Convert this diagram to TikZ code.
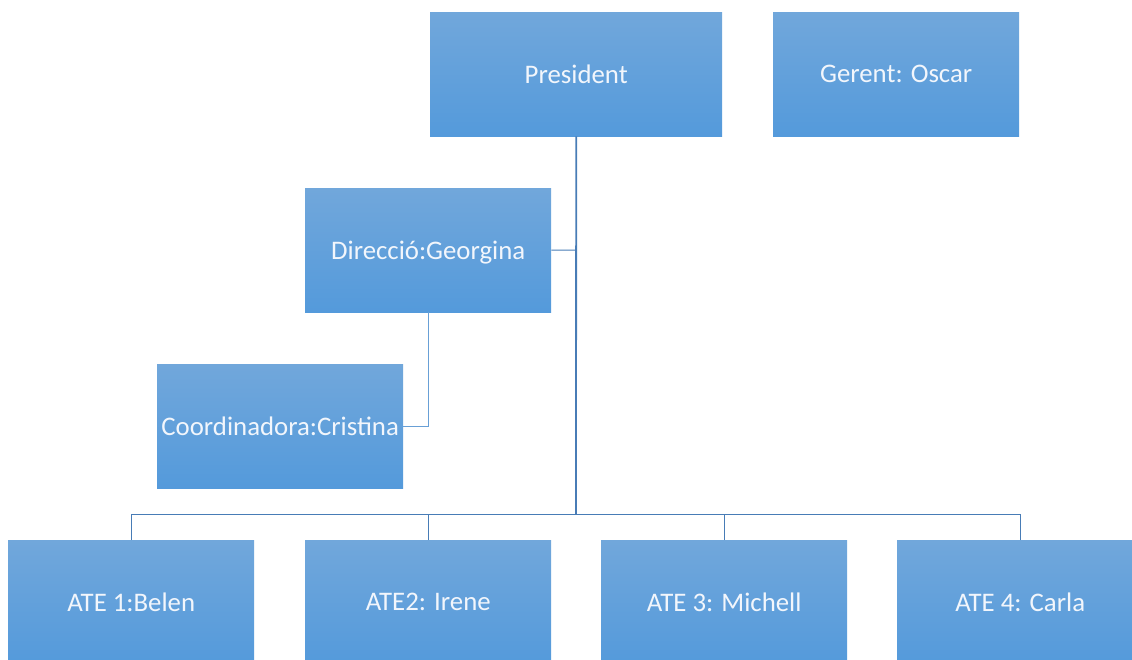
\documentclass[tikz,border=0pt]{standalone}
\usepackage{fontspec}
\setmainfont{Carlito}
\definecolor{boxtop}{RGB}{113,167,219}
\definecolor{boxbot}{RGB}{84,154,219}
\definecolor{txt}{RGB}{242,246,252}
\definecolor{lineblue}{RGB}{72,124,182}
\definecolor{lightline}{RGB}{105,160,214}
\begin{document}
\begin{tikzpicture}[x=1pt,y=-1pt,
  orgbox/.style={rectangle, top color=boxtop, bottom color=boxbot, draw=none,
    minimum width=246pt, minimum height=124pt, inner sep=0pt, anchor=north west,
    text=txt, font=\fontsize{26.8}{30}\selectfont, text depth=0pt},
  wide/.style={minimum width=292pt},
  link/.style={draw=lineblue, line width=1pt},
  trunk/.style={draw=lineblue, line width=1.8pt},
  sublink/.style={draw=lightline, line width=1pt}]
\useasboundingbox (0,0) rectangle (1132,659);
\begin{scope}
\clip (0,0) rectangle (1132,659);
\node[orgbox, wide] (pres) at (430,12) {President};
\node[orgbox] (ger) at (773,12) {Gerent: Oscar};
\node[orgbox] (dir) at (305,188) {Direcció:Georgina};
\node[orgbox] (coord) at (157,364) {Coordinadora:Cristina};
\node[orgbox] (a1) at (8,540) {ATE 1:Belen};
\node[orgbox] (a2) at (305,540) {ATE2: Irene};
\node[orgbox] (a3) at (601,540) {ATE 3: Michell};
\node[orgbox] (a4) at (897,540) {ATE 4: Carla};
\coordinate (bus) at (576,514);
\coordinate (dirj) at (576,250);
\draw[trunk] (pres.south) -- (bus);
\draw[link] (dir.east) -- (dirj);
\draw[link] (a1.north) |- (bus);
\draw[link] (a4.north) |- (bus);
\draw[link] (a2.north) -- (a2.north |- bus);
\draw[link] (a3.north) -- (a3.north |- bus);
\draw[sublink] (dir.south) |- (coord.east);
\end{scope}
\end{tikzpicture}
\end{document}
